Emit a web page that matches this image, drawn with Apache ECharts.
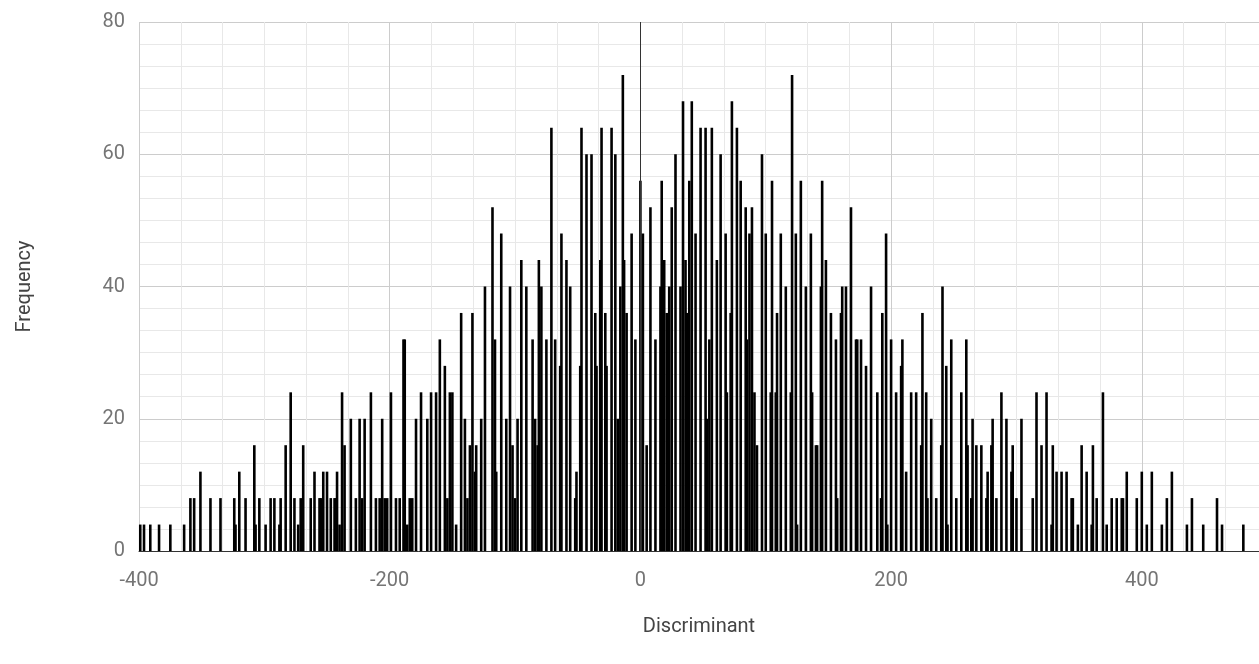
<!DOCTYPE html>
<html>
<head>
<meta charset="utf-8">
<script src="https://cdn.jsdelivr.net/npm/echarts@6/dist/echarts.min.js"></script>
<style>
html,body{margin:0;padding:0;background:#fff;}
#chart{width:1259px;height:664px;}
</style>
</head>
<body>
<div id="chart"></div>
<script>
// Discriminant values (x) of each bar
const discriminant = [
-399,-396,-391,-384,-375,-364,-359,-356,-351,-343,-335,-324,-323,-320,-315,-308,-307,-304,-299,-295,-292,
-288,-287,-283,-279,-276,-273,-271,-269,-263,-260,-256,-255,-253,-250,-247,-244,-243,-242,-240,-238,-236,
-231,-227,-224,-222,-220,-215,-211,-208,-206,-204,-202,-199,-195,-192,-189,-188,-186,-184,-182,-179,
-175,-170,-167,-163,-160,-156,-154,-152,-150,-147,-143,-140,-138,-136,-134,-132,-131,-127,-124,-118,-116,
-115,-111,-107,-104,-102,-100,-98,-95,-91,
-86,-84,-82,-81,-79,-75,-71,-68,-64,-63,-59,-56,-52,-51,-48,-47,-43,-39,-36,-35,-32,-31,-28,-27,
-23,-20,-18,-16,-14,-13,-11,-7,-4,0,2,5,8,12,16,17,19,21,23,25,28,32,34,36,37,39,
41,44,48,52,53,55,57,61,64,68,69,72,73,77,80,84,85,87,89,91,93,97,100,
104,105,108,109,112,116,120,121,124,125,128,132,136,137,140,141,144,145,148,152,156,157,160,161,164,
168,172,173,176,180,184,189,192,193,196,197,200,204,208,209,212,216,220,224,225,228,229,232,
236,240,241,244,245,248,252,256,260,261,264,265,268,272,276,277,280,281,284,288,292,296,297,300,304,313,316,
320,324,328,329,332,336,340,344,345,349,352,356,360,361,364,369,372,376,380,384,385,388,396,400,404,
408,416,420,424,436,440,449,460,464,481
];
// Frequency of each bar
const frequency = [
4,4,4,4,4,4,8,8,12,8,8,8,4,12,8,16,4,8,4,8,8,
4,8,16,24,8,4,8,16,8,12,8,8,12,12,8,8,8,12,4,24,16,
20,8,20,8,20,24,8,8,20,8,8,24,8,8,32,32,4,8,8,20,
24,20,24,24,32,28,8,24,24,4,36,20,8,16,36,12,16,20,40,52,32,
12,48,20,40,16,8,20,44,40,
32,20,16,44,40,32,64,32,28,48,44,40,8,12,28,64,60,60,36,28,44,64,36,28,
64,60,20,40,72,44,36,48,32,56,48,16,52,32,40,56,44,36,40,52,60,40,68,44,36,56,
68,48,64,64,20,32,64,44,60,48,24,36,68,64,56,52,32,48,52,24,16,60,48,
24,56,24,36,48,40,24,72,48,4,56,40,48,24,16,16,40,56,44,36,32,8,36,40,40,
52,32,32,32,28,40,24,8,36,48,4,32,24,28,32,12,24,24,16,36,24,8,20,
8,16,40,28,4,32,8,24,32,16,8,20,16,16,8,12,16,20,8,24,20,12,16,8,20,8,24,
16,24,4,16,12,12,12,8,8,4,16,12,4,16,8,24,4,8,8,8,8,12,8,12,4,
12,4,8,12,4,8,4,8,4,4
];
const xTickStep = 200;
const xMinorDivisions = 6;
const yTickStep = 20;
const yMinorDivisions = 6;

const barData = discriminant.map((d, i) => [d, frequency[i]]);

const chart = echarts.init(document.getElementById('chart'), null, {renderer: 'canvas'});
const minorColor = '#e8e8e8', majorColor = '#cccccc';
const xLineColors = [majorColor];
for (let i = 1; i < xMinorDivisions; i++) xLineColors.push(minorColor);

chart.setOption({
  animation: false,
  backgroundColor: '#ffffff',
  textStyle: {fontFamily: 'Roboto'},
  grid: {left: 139, right: 0, top: 22, bottom: 113, containLabel: false},
  xAxis: {
    type: 'value',
    min: -400,
    max: 493.5,
    interval: xTickStep / xMinorDivisions,
    name: 'Discriminant',
    nameLocation: 'middle',
    nameGap: 66,
    nameTextStyle: {color: '#444', fontSize: 20, fontFamily: 'Roboto'},
    axisLine: {show: true, onZero: false, lineStyle: {color: '#333', width: 1}},
    axisTick: {show: false},
    axisLabel: {
      color: '#757575', fontSize: 20, fontFamily: 'Roboto', margin: 20,
      showMaxLabel: false, hideOverlap: false,
      formatter: function (v) {
        const r = v / xTickStep;
        return Math.abs(r - Math.round(r)) < 1e-6 ? String(Math.round(r) * xTickStep) : '';
      }
    },
    splitLine: {show: true, lineStyle: {color: xLineColors, width: 1}}
  },
  yAxis: {
    type: 'value',
    min: 0,
    max: 80,
    interval: yTickStep,
    name: 'Frequency',
    nameLocation: 'middle',
    nameGap: 104,
    nameRotate: 90,
    nameTextStyle: {color: '#444', fontSize: 20, fontFamily: 'Roboto'},
    axisLine: {show: false},
    axisTick: {show: false},
    axisLabel: {color: '#757575', fontSize: 20, fontFamily: 'Roboto', margin: 14},
    splitLine: {show: true, lineStyle: {color: majorColor, width: 1}},
    minorTick: {show: false, splitNumber: yMinorDivisions},
    minorSplitLine: {show: true, lineStyle: {color: minorColor, width: 1}}
  },
  series: [{
    type: 'bar',
    data: barData,
    barWidth: 2.6,
    itemStyle: {color: '#000000'},
    markLine: {
      silent: true,
      symbol: 'none',
      label: {show: false},
      lineStyle: {color: '#333', type: 'solid', width: 1},
      data: [{xAxis: 0}]
    }
  }]
});
</script>
</body>
</html>
